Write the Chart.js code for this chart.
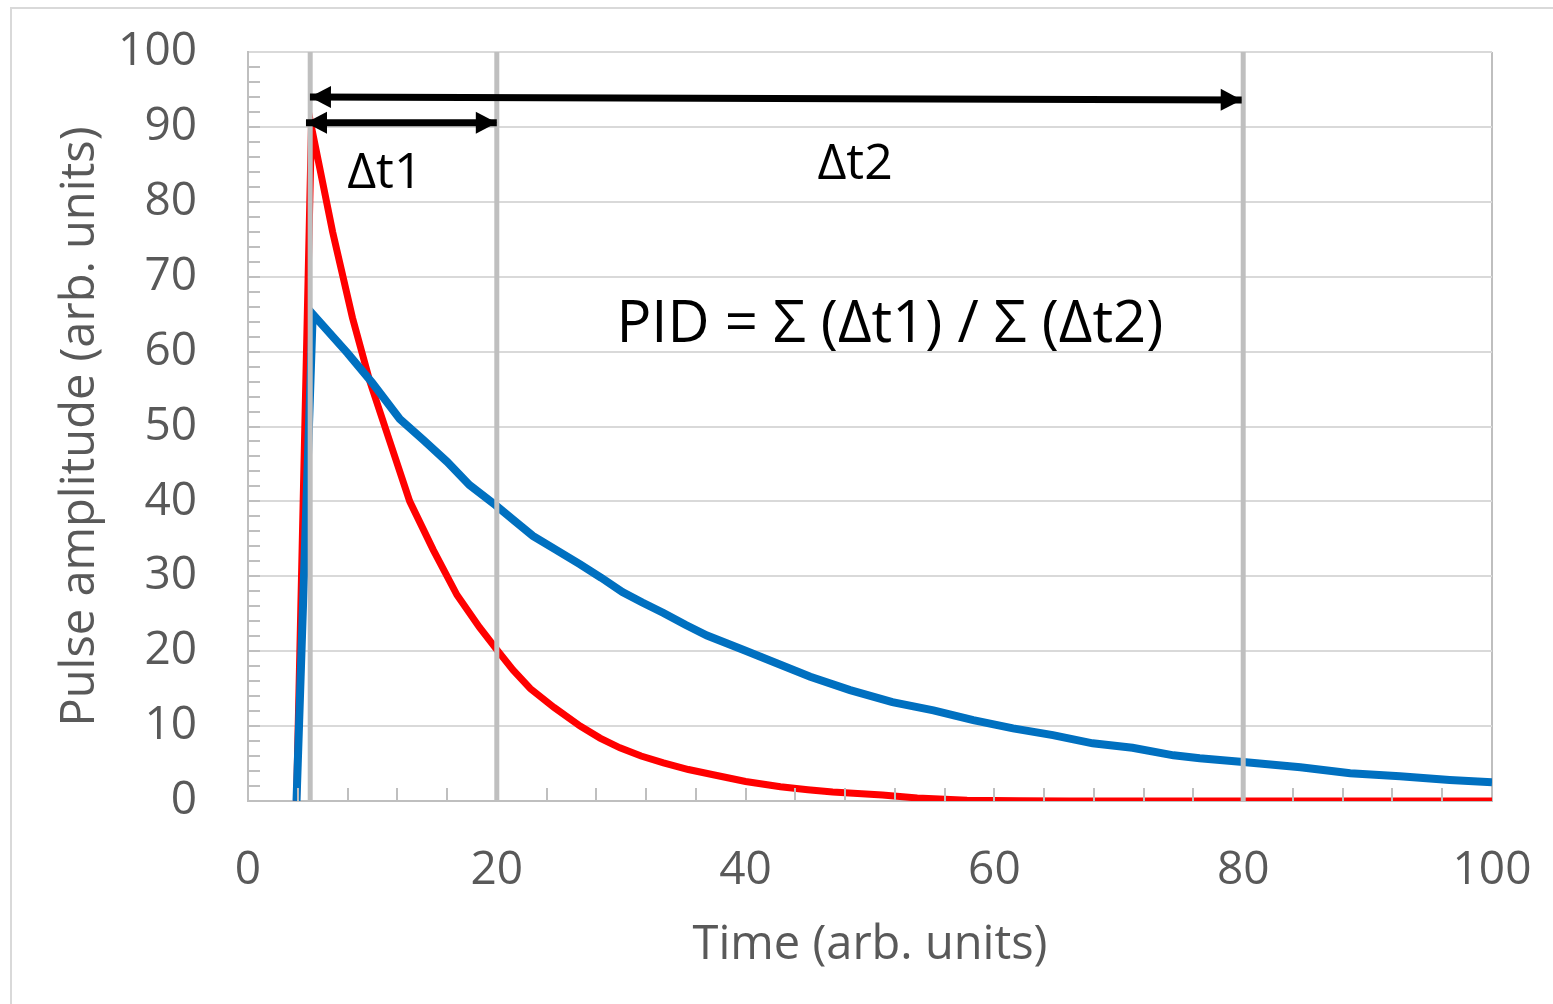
<!DOCTYPE html>
<html>
<head>
<meta charset="utf-8">
<script src="https://cdn.jsdelivr.net/npm/chart.js@4/dist/chart.umd.min.js"></script>
<style>
  body { margin: 0; background: #fff; }
  #moldura { position: absolute; left: 10px; top: 7px; width: 1600px; height: 1100px;
             border-left: 2px solid #d9d9d9; border-top: 2px solid #d9d9d9; }
  #grafico { position: absolute; left: 0; top: 0; }
</style>
</head>
<body>
<div id="moldura"></div>
<canvas id="grafico" width="1553" height="1004"></canvas>
<script>
// Pulso rápido (vermelho) - tempo e amplitude
const tempoVermelho = [3.9, 5.1, 6.8, 8.4, 9.8, 11.4, 13, 14.9, 16.8, 18.6, 20, 21.3, 22.7, 24.6, 26.7, 28.3,
  29.9, 31.6, 33.4, 35.4, 37.4, 40, 42.8, 45, 47, 49, 51, 53.8, 57.8, 62, 66, 100];
const ampVermelho = [0, 90, 76, 64.5, 56, 48, 40, 33.5, 27.5, 23.2, 20.2, 17.5, 15, 12.5, 10, 8.4,
  7.1, 6, 5.1, 4.2, 3.5, 2.6, 1.9, 1.5, 1.2, 1, 0.8, 0.4, 0.1, 0.05, 0, 0];

// Pulso lento (azul)
const tempoAzul = [3.9, 5.2, 8, 10, 12.2, 14.1, 16, 17.8, 19.9, 21.5, 22.9, 24.8, 26.7, 28.4, 30.1, 31.7,
  33.4, 35.2, 36.9, 39.8, 42.5, 45.2, 48.4, 51.8, 55.1, 58.3, 61.5, 64.7, 67.9, 71.1, 74.4, 76.5,
  80, 84.6, 88.6, 92.6, 96.6, 100];
const ampAzul = [0, 65, 59.8, 55.8, 51, 48.2, 45.3, 42.2, 39.5, 37.3, 35.4, 33.5, 31.6, 29.8, 27.9, 26.5,
  25.1, 23.5, 22.1, 20.2, 18.4, 16.6, 14.8, 13.2, 12.1, 10.8, 9.7, 8.8, 7.7, 7.1, 6.1, 5.7,
  5.2, 4.5, 3.7, 3.3, 2.8, 2.5];

// Linhas verticais de referência (início, fim de Δt1, fim de Δt2)
const linhasVerticais = [5, 20, 80];

// Setas: [t inicial, y inicial, t final, y final]
const setaDt1 = [4.66, 90.55, 20, 90.55];
const setaDt2 = [4.98, 94.0, 79.88, 93.6];

// Textos e suas posições em unidades do gráfico
const textos = [
  { texto: 'Δt1', t: 11.0, y: 83.8, tamanho: 50 },
  { texto: 'Δt2', t: 48.8, y: 85.0, tamanho: 50 },
  { texto: 'PID = Σ (Δt1) / Σ (Δt2)', t: 51.6, y: 63.5, tamanho: 58 }
];

const ticksX = [0, 20, 40, 60, 80, 100];
const ticksY = [0, 10, 20, 30, 40, 50, 60, 70, 80, 90, 100];

const fonte = "'Open Sans', sans-serif";
const cinzaTexto = '#595959';
const cinzaEixo = '#bfbfbf';

function pares(xs, ys) {
    return xs.map((x, i) => ({ x: x, y: ys[i] }));
}

function seta(s) {
    return {
        data: [{ x: s[0], y: s[1] }, { x: s[2], y: s[3] }],
        borderColor: '#000', borderWidth: 7, seta: true
    };
}

const conjuntos = [
    seta(setaDt1),
    seta(setaDt2),
    ...linhasVerticais.map(t => ({
        data: [{ x: t, y: 0 }, { x: t, y: 100 }],
        borderColor: cinzaEixo, borderWidth: 5
    })),
    { data: pares(tempoAzul, ampAzul), borderColor: '#0070c0', borderWidth: 8 },
    { data: pares(tempoVermelho, ampVermelho), borderColor: '#ff0000', borderWidth: 7 }
];

// Plugin: marcas menores, pontas das setas e textos
const extras = {
    id: 'extras',
    afterDatasetsDraw(chart) {
        const ctx = chart.ctx;
        const x = chart.scales.x, y = chart.scales.y;
        const area = chart.chartArea;
        ctx.save();
        ctx.strokeStyle = cinzaEixo;
        ctx.lineWidth = 2;
        for (let v = 2; v < 100; v += 2) {
            const py = Math.round(y.getPixelForValue(v));
            ctx.beginPath();
            ctx.moveTo(area.left, py);
            ctx.lineTo(area.left + 12, py);
            ctx.stroke();
        }
        for (let v = 4; v < 100; v += 4) {
            const px = Math.round(x.getPixelForValue(v));
            ctx.beginPath();
            ctx.moveTo(px, area.bottom);
            ctx.lineTo(px, area.bottom - 13);
            ctx.stroke();
        }

        // pontas das setas
        ctx.fillStyle = '#000';
        chart.data.datasets.forEach((ds, i) => {
            if (!ds.seta) return;
            const pts = chart.getDatasetMeta(i).data;
            const a = pts[0], b = pts[pts.length - 1];
            [[a, b], [b, a]].forEach(([ponta, outro]) => {
                const ang = Math.atan2(ponta.y - outro.y, ponta.x - outro.x);
                const comp = 21, larg = 11;
                ctx.beginPath();
                ctx.moveTo(ponta.x, ponta.y);
                ctx.lineTo(ponta.x - comp * Math.cos(ang) - larg * Math.sin(ang),
                           ponta.y - comp * Math.sin(ang) + larg * Math.cos(ang));
                ctx.lineTo(ponta.x - comp * Math.cos(ang) + larg * Math.sin(ang),
                           ponta.y - comp * Math.sin(ang) - larg * Math.cos(ang));
                ctx.closePath();
                ctx.fill();
            });
        });

        // textos
        ctx.textAlign = 'center';
        ctx.textBaseline = 'middle';
        textos.forEach(tx => {
            ctx.font = tx.tamanho + 'px ' + fonte;
            ctx.fillText(tx.texto, x.getPixelForValue(tx.t), y.getPixelForValue(tx.y));
        });
        ctx.restore();
    }
};

new Chart(document.getElementById('grafico'), {
    type: 'scatter',
    data: { datasets: conjuntos },
    options: {
        responsive: false,
        animation: false,
        showLine: true,
        elements: { point: { radius: 0 }, line: { tension: 0, borderCapStyle: 'butt' } },
        layout: { padding: { top: 52, right: 61, left: 0, bottom: 0 } },
        plugins: { legend: { display: false }, tooltip: { enabled: false } },
        scales: {
            x: {
                type: 'linear', min: 0, max: 100,
                afterBuildTicks: s => { s.ticks = ticksX.map(v => ({ value: v })); },
                afterFit: s => { s.height = 203; },
                ticks: { color: cinzaTexto, font: { family: fonte, size: 46 }, padding: 0, maxRotation: 0 },
                grid: {
                    drawTicks: true, tickLength: 42, tickColor: 'rgba(0,0,0,0)', lineWidth: 2,
                    color: c => c.tick && c.tick.value === 100 ? cinzaEixo : 'rgba(0,0,0,0)'
                },
                border: { color: cinzaEixo, width: 2 },
                title: {
                    display: true, text: 'Time (arb. units)', color: cinzaTexto,
                    font: { family: fonte, size: 47 }, padding: { top: 0, bottom: 30 }
                }
            },
            y: {
                min: 0, max: 100,
                afterBuildTicks: s => { s.ticks = ticksY.map(v => ({ value: v })); },
                afterFit: s => { s.width = 248; },
                ticks: { color: cinzaTexto, font: { family: fonte, size: 46 }, padding: 0 },
                grid: { drawTicks: true, tickLength: 51, tickColor: 'rgba(0,0,0,0)', lineWidth: 2, color: '#d9d9d9' },
                border: { color: cinzaEixo, width: 2 },
                title: {
                    display: true, text: 'Pulse amplitude (arb. units)', color: cinzaTexto,
                    font: { family: fonte, size: 47 }, padding: { top: 52, bottom: 0 }
                }
            }
        }
    },
    plugins: [extras]
});
</script>
</body>
</html>
